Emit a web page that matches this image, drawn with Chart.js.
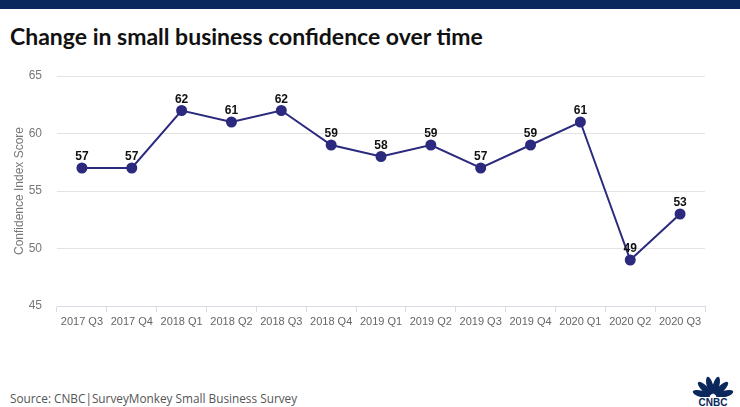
<!DOCTYPE html>
<html>
<head>
<meta charset="utf-8">
<script src="https://cdn.jsdelivr.net/npm/chart.js@4"></script>
<style>
  html, body { margin: 0; padding: 0; background: #fff; }
  body { width: 740px; height: 407px; position: relative; overflow: hidden; font-family: "Liberation Sans", Arial, sans-serif; }
  #topbar { position: absolute; left: 0; top: 0; width: 740px; height: 9px; background: #0a285c; }
  #title { position: absolute; left: 10px; top: 22px; font-family: "Lato", "Open Sans", sans-serif; font-weight: 700; font-size: 23px; color: #111; white-space: nowrap; }
  #wrap { position: absolute; left: 0; top: 60px; width: 740px; height: 280px; }
  #source { position: absolute; left: 10px; top: 390px; font-family: "Open Sans", "Noto Sans", sans-serif; font-size: 11.8px; color: #555; white-space: nowrap; }
  #logo { position: absolute; left: 688px; top: 372px; width: 50px; height: 35px; }
</style>
</head>
<body>
<div id="topbar"></div>
<div id="title">Change in small business confidence over time</div>
<div id="wrap"><canvas id="c" width="740" height="280"></canvas></div>
<div id="source">Source: CNBC|SurveyMonkey Small Business Survey</div>
<svg id="logo" viewBox="0 0 50 35">
  <g fill="#0a285c" transform="translate(25,25)">
    <ellipse cx="0" cy="-12" rx="3.2" ry="9" transform="rotate(-75)"/>
    <ellipse cx="0" cy="-12" rx="3.2" ry="9" transform="rotate(-45)"/>
    <ellipse cx="0" cy="-12" rx="3.2" ry="9" transform="rotate(-15)"/>
    <ellipse cx="0" cy="-12" rx="3.2" ry="9" transform="rotate(15)"/>
    <ellipse cx="0" cy="-12" rx="3.2" ry="9" transform="rotate(45)"/>
    <ellipse cx="0" cy="-12" rx="3.2" ry="9" transform="rotate(75)"/>
  </g>
  <rect x="6" y="25" width="38" height="10" fill="#fff"/>
  <text x="25" y="34" text-anchor="middle" font-family="Liberation Sans, Arial" font-weight="700" font-size="10" fill="#0a285c">CNBC</text>
</svg>
<script>
const categories = ["2017 Q3","2017 Q4","2018 Q1","2018 Q2","2018 Q3","2018 Q4","2019 Q1","2019 Q2","2019 Q3","2019 Q4","2020 Q1","2020 Q2","2020 Q3"];
const confidence = [57,57,62,61,62,59,58,59,57,59,61,49,53];
const yMin = 45, yMax = 65, yStep = 5;

const labelPlugin = {
  id: 'pointLabels',
  afterDatasetsDraw(chart) {
    const ctx = chart.ctx;
    const meta = chart.getDatasetMeta(0);
    ctx.save();
    ctx.font = 'bold 12px "Liberation Sans", Arial, sans-serif';
    ctx.fillStyle = '#111';
    ctx.textAlign = 'center';
    ctx.textBaseline = 'bottom';
    meta.data.forEach((pt, i) => {
      ctx.fillText(String(chart.data.datasets[0].data[i]), pt.x, pt.y - 5);
    });
    ctx.restore();
  }
};

new Chart(document.getElementById('c'), {
  type: 'line',
  data: {
    labels: categories,
    datasets: [{
      data: confidence,
      borderColor: '#2b2a7e',
      borderWidth: 2,
      backgroundColor: '#2b2a7e',
      pointBackgroundColor: '#2b2a7e',
      pointBorderColor: '#2b2a7e',
      pointRadius: 4.5,
      tension: 0,
      fill: false
    }]
  },
  options: {
    responsive: false,
    animation: false,
    layout: { padding: { left: 0, right: 35, top: 16, bottom: 0 } },
    plugins: { legend: { display: false }, tooltip: { enabled: false } },
    scales: {
      x: {
        type: 'category',
        offset: true,
        grid: { offset: true, drawOnChartArea: false, drawTicks: true, tickLength: 6, color: '#d8dbe6' },
        border: { color: '#d8dbe6' },
        ticks: { color: '#666', font: { size: 11, family: '"Liberation Sans", Arial, sans-serif' }, maxRotation: 0, autoSkip: false, padding: 3 },
        afterFit(scale) { scale.height = 34; }
      },
      y: {
        min: yMin, max: yMax,
        ticks: { stepSize: yStep, color: '#777', font: { size: 12, family: '"Liberation Sans", Arial, sans-serif' }, padding: 7 },
        grid: { color: '#e3e3e3', drawTicks: true, tickLength: 8, tickColor: 'rgba(0,0,0,0)' },
        border: { display: false },
        title: { display: true, text: 'Confidence Index Score', color: '#777', font: { size: 12, family: '"Liberation Sans", Arial, sans-serif' }, padding: { top: 12, bottom: 0 } },
        afterFit(scale) { scale.width = 57; }
      }
    }
  },
  plugins: [labelPlugin]
});
</script>
</body>
</html>
